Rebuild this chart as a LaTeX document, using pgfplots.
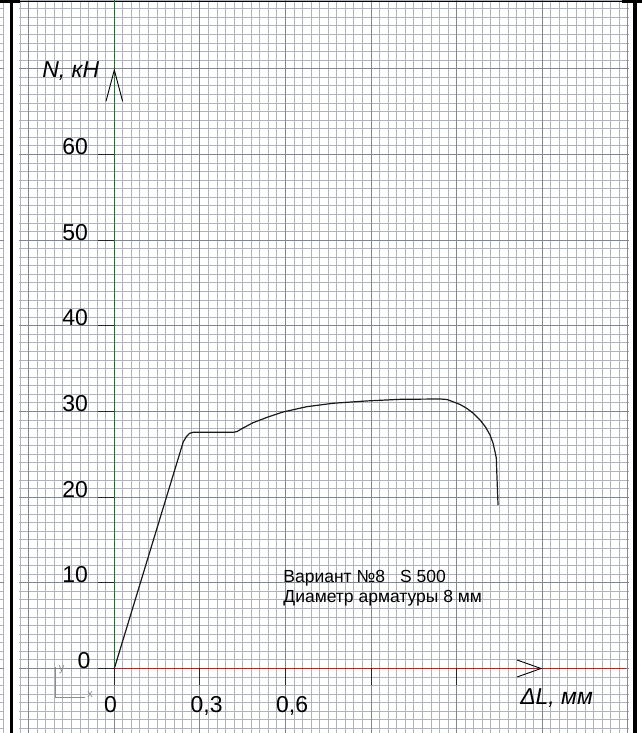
\documentclass[border=0pt]{standalone}
\usepackage{pgfplots}
\pgfplotsset{compat=1.18}
\usepackage{fontspec}
\setmainfont{Liberation Sans}
\definecolor{gridc}{RGB}{175,180,188}
\definecolor{gridd}{RGB}{130,136,145}
\definecolor{axgreen}{RGB}{30,115,30}
\definecolor{axred}{RGB}{150,45,45}
\definecolor{ucs}{RGB}{140,140,140}
\begin{document}
\begin{tikzpicture}
\begin{axis}[
  scale only axis, width=642pt, height=733pt,
  xmin=-0.40063, xmax=1.8494, ymin=-7.529, ymax=78.035,
  axis line style={draw=none}, tick style={draw=none},
  xticklabels={}, yticklabels={},
  xtick distance=0.03, ytick distance=1,
  grid=major, major grid style={line width=1.0pt, color=gridc},
  extra x ticks={-0.3,0,0.3,0.6,0.9,1.2,1.5,1.8},
  extra y ticks={0,10,20,30,40,50,60,70},
  extra x tick labels={}, extra y tick labels={},
  extra tick style={grid=major, major grid style={line width=1.0pt, color=gridd}},
  clip=true,
]
% white margins
\fill[white] (axis cs:-0.3883,-8) rectangle (axis cs:-0.3340,79);
\fill[white] (axis cs:1.8036,-8) rectangle (axis cs:1.86,79);
% borders
\fill[black] (axis cs:-0.3645,-8) rectangle (axis cs:-0.3540,78.0);
\fill[black] (axis cs:1.8161,-8) rectangle (axis cs:1.8301,77.85);
\draw[black, line width=1pt] (axis cs:-0.41,77.9) -- (axis cs:1.86,77.9);
\fill[black] (axis cs:-0.41,77.7) rectangle (axis cs:-0.33,78.1);
\fill[black] (axis cs:1.78,77.7) rectangle (axis cs:1.86,78.1);
% axes lines
\draw[axgreen, line width=1.5pt] (axis cs:0,0) -- (axis cs:0,78.1);
\draw[axred, line width=1.5pt] (axis cs:0,0) -- (axis cs:1.7919,0);
% arrows
\draw[black, line width=0.9pt] (axis cs:-0.0292,66.2) -- (axis cs:0,69.86) -- (axis cs:0.0292,66.2);
\draw[black, line width=0.9pt] (axis cs:1.411,1.0) -- (axis cs:1.4955,0) -- (axis cs:1.411,-1.0);
% ticks
\pgfplotsinvokeforeach{0,10,20,30,40,50,60}{
  \draw[black!85, line width=0.9pt] (axis cs:-0.0582,#1) -- (axis cs:0,#1);
}
\pgfplotsinvokeforeach{0,0.3,0.6,0.9,1.2}{
  \draw[black!85, line width=0.9pt] (axis cs:#1,0) -- (axis cs:#1,-1.93);
}
% tick labels
\pgfplotsinvokeforeach{10,20,30,40,50,60}{
  \node[anchor=base east, inner sep=0pt, font=\fontsize{23}{23}\selectfont] at (axis cs:-0.0918,#1) {#1};
}
\node[anchor=base east, inner sep=0pt, font=\fontsize{23}{23}\selectfont] at (axis cs:-0.0827,0) {0};
\node[anchor=base west, inner sep=0pt, font=\fontsize{23}{23}\selectfont] at (axis cs:-0.0361,-5.19) {0};
\node[anchor=base west, inner sep=0pt, font=\fontsize{23}{23}\selectfont] at (axis cs:0.2667,-5.19) {0,3};
\node[anchor=base west, inner sep=0pt, font=\fontsize{23}{23}\selectfont] at (axis cs:0.5667,-5.19) {0,6};
% axis titles
\node[anchor=base west, inner sep=0pt, font=\fontsize{23}{23}\selectfont\itshape] at (axis cs:-0.253,68.93) {N, кН};
\node[anchor=base west, inner sep=0pt, font=\fontsize{23}{23}\selectfont\itshape] at (axis cs:1.422,-4.26) {ΔL, мм};
% annotation
\node[anchor=base west, inner sep=0pt, font=\fontsize{17.5}{17.5}\selectfont] at (axis cs:0.592,10.01) {Вариант №8\hspace{15pt}S 500};
\node[anchor=base west, inner sep=0pt, font=\fontsize{17.5}{17.5}\selectfont] at (axis cs:0.592,7.68) {Диаметр арматуры 8 мм};
% UCS icon
\draw[ucs, line width=0.8pt] (axis cs:-0.205,0.2) -- (axis cs:-0.205,-3.41) -- (axis cs:-0.1026,-3.41);
\node[ucs, inner sep=0pt, font=\fontsize{11}{11}\selectfont] at (axis cs:-0.185,-0.1) {y};
\node[ucs, inner sep=0pt, font=\fontsize{11}{11}\selectfont] at (axis cs:-0.085,-3.09) {x};
% curve
\addplot[black!90, line width=1.2pt, line join=round] coordinates {
(0,0) (0.2418,26.47) (0.2530,27.08) (0.2636,27.45) (0.2758,27.57)
(0.4171,27.57) (0.430,27.66) (0.4511,28.07) (0.4861,28.69) (0.5387,29.36)
(0.5912,29.94) (0.6743,30.56) (0.7665,30.96) (0.8846,31.23) (1.0013,31.42)
(1.1415,31.46) (1.166,31.40) (1.1871,31.14) (1.2117,30.82) (1.2350,30.37)
(1.2589,29.77) (1.2817,29.01) (1.301,28.19) (1.3167,27.26) (1.3272,26.32)
(1.3342,25.31) (1.3388,24.57) (1.3402,23.17) (1.3448,19.09)
};
\end{axis}
\pgfresetboundingbox
\useasboundingbox (0,0) rectangle (642pt,733pt);
\end{tikzpicture}
\end{document}
